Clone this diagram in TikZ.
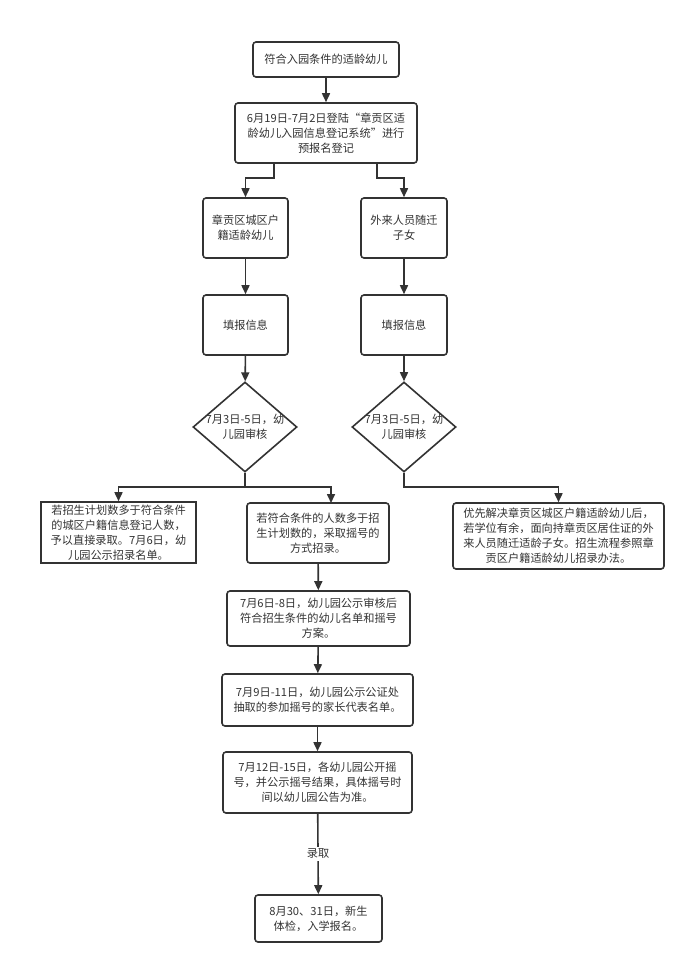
\documentclass[tikz,border=0pt]{standalone}
\usepackage{fontspec}
\setmainfont{Noto Sans CJK SC}
\usetikzlibrary{arrows.meta,shapes.geometric,calc}
\definecolor{ln}{HTML}{333333}
\definecolor{tx}{HTML}{333333}
\tikzset{
  box/.style={draw=ln, line width=1.6pt, rounded corners=3pt, align=center, inner sep=1pt, text=tx, font=\fontsize{11.2}{15}\selectfont},
  sqbox/.style={box, rounded corners=0pt},
  dia/.style={draw=ln, line width=1.6pt, diamond, inner sep=0pt},
  dtext/.style={align=center, text=tx, font=\fontsize{11.2}{15}\selectfont},
  arr/.style={draw=ln, line width=1.6pt, -{Triangle[length=9pt,width=8pt]}},
}
\begin{document}
\begin{tikzpicture}[x=1pt,y=-1pt]
\useasboundingbox[fill=white] (0,0) rectangle (692,969);
\node[box, minimum width=146pt, minimum height=35pt] (n1) at (326,59.5) {符合入园条件的适龄幼儿};
\node[box, minimum width=182pt, minimum height=60pt] (n2) at (326,133) {6月19日-7月2日登陆“章贡区适\\龄幼儿入园信息登记系统”进行\\预报名登记};
\node[box, minimum width=85pt, minimum height=60pt] (n3) at (245.5,228) {章贡区城区户\\籍适龄幼儿};
\node[box, minimum width=86pt, minimum height=60pt] (n4) at (404,228) {外来人员随迁\\子女};
\node[box, minimum width=85pt, minimum height=60pt] (n5) at (245.5,325) {填报信息};
\node[box, minimum width=86pt, minimum height=60pt] (n6) at (404,325) {填报信息};
\node[dia, minimum width=104pt, minimum height=90pt, label={[dtext]center:7月3日-5日，幼\\儿园审核}] (d1) at (245,427) {};
\node[dia, minimum width=104pt, minimum height=90pt, label={[dtext]center:7月3日-5日，幼\\儿园审核}] (d2) at (404,427) {};
\node[sqbox, minimum width=155pt, minimum height=61pt] (n7) at (118.5,532.5) {若招生计划数多于符合条件\\的城区户籍信息登记人数，\\予以直接录取。7月6日，幼\\儿园公示招录名单。};
\node[box, minimum width=142pt, minimum height=60pt] (n8) at (318,533) {若符合条件的人数多于招\\生计划数的，采取摇号的\\方式招录。};
\node[box, minimum width=211pt, minimum height=66pt] (n9) at (558.5,536) {优先解决章贡区城区户籍适龄幼儿后，\\若学位有余，面向持章贡区居住证的外\\来人员随迁适龄子女。招生流程参照章\\贡区户籍适龄幼儿招录办法。};
\node[box, minimum width=183pt, minimum height=55pt] (n10) at (318.5,618.5) {7月6日-8日，幼儿园公示审核后\\符合招生条件的幼儿名单和摇号\\方案。};
\node[box, minimum width=191pt, minimum height=52pt] (n11) at (317.5,700) {7月9日-11日，幼儿园公示公证处\\抽取的参加摇号的家长代表名单。};
\node[box, minimum width=189pt, minimum height=61pt] (n12) at (317.5,782.5) {7月12日-15日，各幼儿园公开摇\\号，并公示摇号结果，具体摇号时\\间以幼儿园公告为准。};
\node[box, minimum width=127pt, minimum height=47pt] (n13) at (318.5,918.5) {8月30、31日，新生\\体检，入学报名。};

\coordinate (b1) at (274,178);
\coordinate (b2) at (377,178);
\coordinate (j1) at (245,487);
\coordinate (j2) at (404,487);
\coordinate (t8) at (331,503);

\draw[arr] (n1) -- (n2);
\draw[arr] (n2.south -| b1) -- (b1) -| (n3.north);
\draw[arr] (n2.south -| b2) -- (b2) -| (n4.north);
\draw[arr] (n3) -- (n5);
\draw[arr] (n4) -- (n6);
\draw[arr] (n5) -- (d1);
\draw[arr] (n6) -- (d2);
\draw[draw=ln, line width=1.6pt] (d1.south) -- (j1);
\draw[arr] (j1) -| (n7.north);
\draw[arr] (j1) -| (t8);
\draw[arr] (d2.south) -- (j2) -| (n9.north);
\draw[arr] (n8) -- (n10);
\draw[arr] (n10) -- (n11);
\draw[arr] (n11) -- (n12);
\draw[arr] (n12) -- node[fill=white, text=tx, font=\fontsize{11.2}{15}\selectfont, inner sep=2pt] (lb) {录取} (n13);
\end{tikzpicture}
\end{document}
